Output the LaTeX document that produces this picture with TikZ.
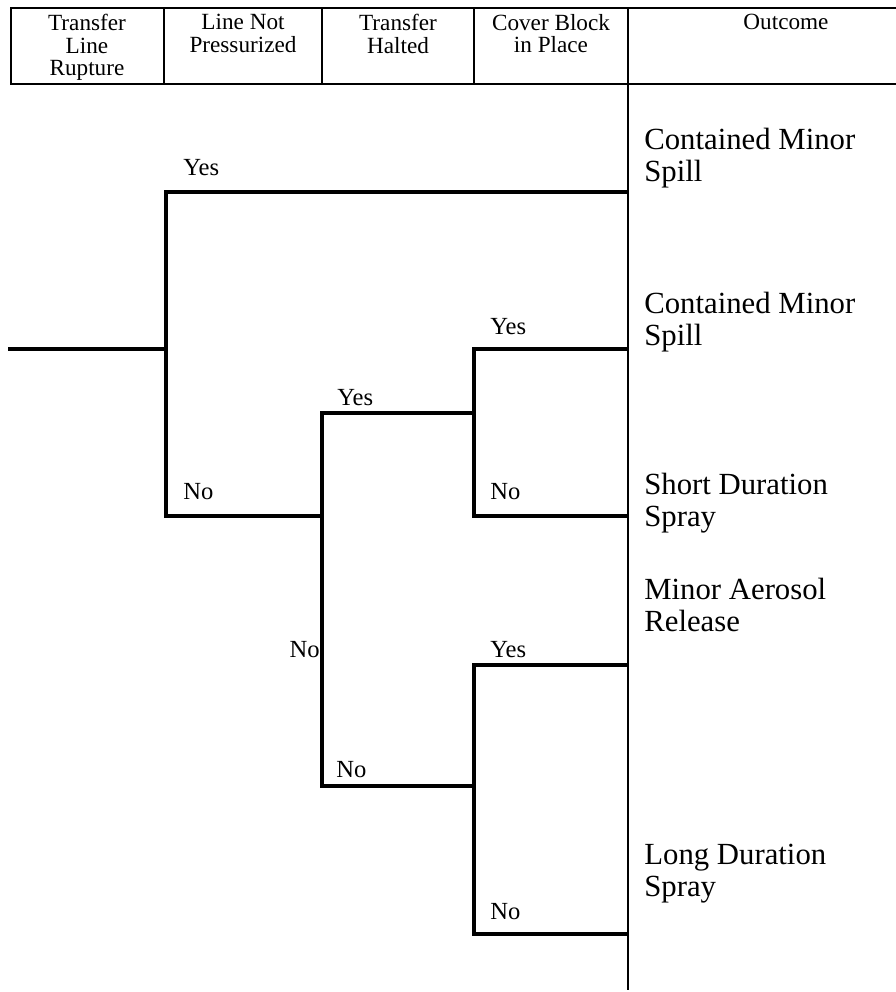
\documentclass[tikz,border=0pt]{standalone}
\usepackage{fontspec}
\setmainfont{Liberation Serif}
\begin{document}
\begin{tikzpicture}[x=0.02cm, y=-0.02cm,
  branch/.style={line width=2.8pt},
  rule/.style={line width=1.6pt},
  head/.style={align=center, anchor=north, inner sep=0pt, font=\fontsize{13.2}{12.8}\selectfont},
  answer/.style={anchor=west, inner sep=0pt, font=\fontsize{14}{14}\selectfont},
  outcome/.style={align=left, anchor=west, inner sep=0pt, font=\fontsize{17.5}{18.1}\selectfont}]

  \useasboundingbox (0,0) rectangle (896,992);

  % header row
  \draw[rule] (896,8) -- (11,8) -- (11,84) -- (896,84);
  \foreach \x in {164,322,474} {
    \draw[rule] (\x,8) -- (\x,84);
  }
  \draw[rule] (628,8) -- (628,990);

  \node[head] (hRupture) at (87,14) {Transfer\\Line\\Rupture};
  \node[head] (hPress) at (243,14) {Line Not\\Pressurized};
  \node[head] (hHalt) at (398,14) {Transfer\\Halted};
  \node[head] (hCover) at (551,14) {Cover Block\\in Place};
  \node[head] (hOut) at (786,14) {Outcome};

  % branch points
  \coordinate (root) at (8,349);
  \coordinate (lr) at (166,349);
  \coordinate (lrY) at (166,192);
  \coordinate (lrN) at (166,516);
  \coordinate (np) at (322,516);
  \coordinate (npY) at (322,413);
  \coordinate (npN) at (322,786);
  \coordinate (thA) at (474,413);
  \coordinate (thAY) at (474,349);
  \coordinate (thAN) at (474,516);
  \coordinate (thB) at (474,786);
  \coordinate (thBY) at (474,665);
  \coordinate (thBN) at (474,934);
  \foreach \name/\y in {e1/192, e2/349, e3/516, e4/665, e5/934} {
    \coordinate (\name) at (628,\y);
  }

  % tree
  \draw[branch] (root) -- (lr);
  \draw[branch] (e1) -- (lrY) -- (lrN) -- (np);
  \draw[branch] (thA) -- (npY) -- (npN) -- (thB);
  \draw[branch] (e2) -- (thAY) -- (thAN) -- (e3);
  \draw[branch] (e4) -- (thBY) -- (thBN) -- (e5);

  % yes / no
  \node[answer] (aY1) at (183,168) {Yes};
  \node[answer] (aN1) at (183,492) {No};
  \node[answer] (aY2) at (337,398) {Yes};
  \node[answer, anchor=east] (aN2) at (320,650) {No};
  \node[answer] (aY3) at (490,327) {Yes};
  \node[answer] (aN3) at (490,492) {No};
  \node[answer] (aY4) at (490,650) {Yes};
  \node[answer] (aN4) at (336,770) {No};
  \node[answer] (aN5) at (490,912) {No};

  % outcomes
  \node[outcome] (oSpillA) at (644,158) {Contained Minor\\Spill};
  \node[outcome] (oSpillB) at (644,322) {Contained Minor\\Spill};
  \node[outcome] (oShort) at (644,503) {Short Duration\\Spray};
  \node[outcome] (oAero) at (644,605) {Minor Aerosol\\Release};
  \node[outcome] (oLong) at (644,874) {Long Duration\\Spray};

\end{tikzpicture}
\end{document}
